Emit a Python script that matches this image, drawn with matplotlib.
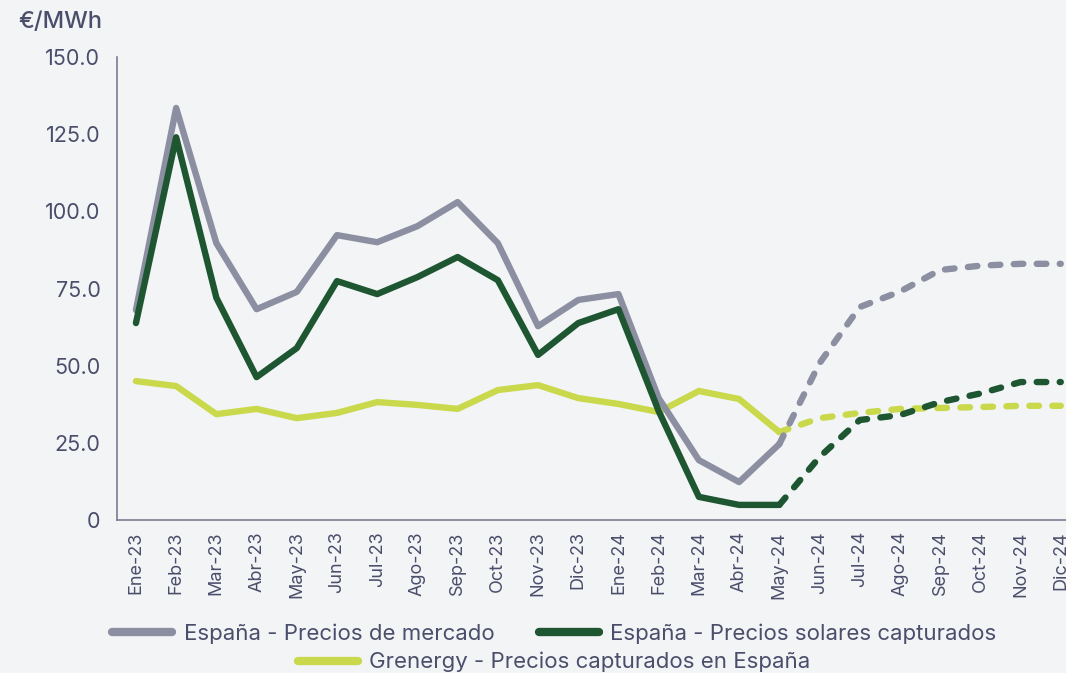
import matplotlib.pyplot as plt
from matplotlib.lines import Line2D

meses = ['Ene-23', 'Feb-23', 'Mar-23', 'Abr-23', 'May-23', 'Jun-23', 'Jul-23', 'Ago-23',
         'Sep-23', 'Oct-23', 'Nov-23', 'Dic-23', 'Ene-24', 'Feb-24', 'Mar-24', 'Abr-24',
         'May-24', 'Jun-24', 'Jul-24', 'Ago-24', 'Sep-24', 'Oct-24', 'Nov-24', 'Dic-24']

# valores reales (Ene-23 .. May-24)
mercado = [68, 133.5, 89.7, 68.3, 73.9, 92.3, 90, 95.2, 103, 89.7, 62.8, 71.3, 73.2,
           39.5, 19.4, 12.3, 24.6]
solar = [63.8, 124, 72, 46.3, 55.7, 77.4, 73.2, 78.7, 85.2, 77.7, 53.5, 63.8, 68.3,
         35.3, 7.5, 4.9, 4.9]
grenergy = [45, 43.4, 34.3, 36, 33, 34.7, 38.2, 37.3, 36, 42.1, 43.7, 39.5, 37.6,
            35, 41.8, 39.2, 28.5]

# previsiones (May-24 .. Dic-24)
mercado_prev = [24.6, 50.8, 69, 74, 81, 82.4, 83, 83]
solar_prev = [4.9, 20.4, 32.4, 34, 38.2, 41, 44.7, 44.7]
grenergy_prev = [28.5, 33, 34.7, 36, 36.3, 36.6, 37, 37]

c_gris = '#8c8fa1'
c_verde = '#1d5631'
c_lima = '#c9d94b'
c_texto = '#4b4e6b'
fondo = '#f3f4f6'

plt.rcParams['font.family'] = ['Inter', 'DejaVu Sans']

fig = plt.figure(figsize=(10.66, 6.73), dpi=100, facecolor=fondo)
ax = fig.add_axes([0.1098, 0.2273, 0.8902, 0.688])
ax.set_facecolor(fondo)

x_real = list(range(len(mercado)))
x_prev = list(range(len(mercado) - 1, len(meses)))

lw = 4.6
for serie, prev, color in [(grenergy, grenergy_prev, c_lima),
                           (mercado, mercado_prev, c_gris),
                           (solar, solar_prev, c_verde)]:
    ax.plot(x_real, serie, color=color, linewidth=lw, solid_joinstyle='round',
            solid_capstyle='round')
    ax.plot(x_prev, prev, color=color, linewidth=lw, dashes=(1.5, 2.1),
            dash_capstyle='round')

ax.set_xlim(-0.47, 23.13)
ax.set_ylim(0, 150)
ax.set_yticks([0, 25, 50, 75, 100, 125, 150])
ax.set_yticklabels(['0', '25.0', '50.0', '75.0', '100.0', '125.0', '150.0'])
ax.set_xticks(range(len(meses)))
ax.set_xticklabels(meses, rotation=90)
ax.tick_params(axis='y', length=0, pad=12, labelsize=15.5, labelcolor=c_texto)
ax.tick_params(axis='x', length=0, pad=8, labelsize=13, labelcolor=c_texto)

for s in ['top', 'right']:
    ax.spines[s].set_visible(False)
for s in ['left', 'bottom']:
    ax.spines[s].set_color('#7a7d92')
    ax.spines[s].set_linewidth(1.2)

fig.text(0.017, 0.967, '€/MWh', fontsize=17, color=c_texto, fontweight='medium',
         va='center', ha='left')

h1 = Line2D([], [], color=c_gris, linewidth=6, solid_capstyle='round')
h2 = Line2D([], [], color=c_verde, linewidth=6, solid_capstyle='round')
h3 = Line2D([], [], color=c_lima, linewidth=6, solid_capstyle='round')

leg1 = fig.legend([h1, h2], ['España - Precios de mercado', 'España - Precios solares capturados'],
                  loc='center', bbox_to_anchor=(0.52, 0.058), ncol=2, frameon=False,
                  fontsize=16, labelcolor=c_texto, handlelength=2.7, columnspacing=2.0,
                  handletextpad=0.5)
leg2 = fig.legend([h3], ['Grenergy - Precios capturados en España'],
                  loc='center', bbox_to_anchor=(0.52, 0.016), frameon=False,
                  fontsize=16, labelcolor=c_texto, handlelength=2.7, handletextpad=0.5)

fig.savefig('out.png', dpi=100, facecolor=fondo)
